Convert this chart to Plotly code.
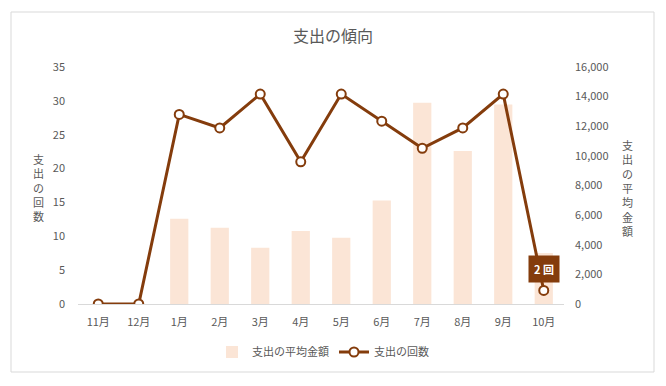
import plotly.graph_objects as go

months = ["11月", "12月", "1月", "2月", "3月", "4月", "5月", "6月", "7月", "8月", "9月", "10月"]
avg_amount = [0, 0, 5760, 5150, 3800, 4930, 4480, 6980, 13590, 10330, 13460, 3440]
counts = [0, 0, 28, 26, 31, 21, 31, 27, 23, 26, 31, 2]
left_ticks = [0, 5, 10, 15, 20, 25, 30, 35]
right_ticks = [0, 2000, 4000, 6000, 8000, 10000, 12000, 14000, 16000]
left_title = "支出の回数"
right_title = "支出の平均金額"

FONT = "Noto Sans CJK JP, Meiryo, sans-serif"
GRAY = "#595959"
BROWN = "#843C0C"
PEACH = "#FBE5D6"

# page offset of the figure (body margin)
OFF = 8
W, H = 666 - OFF, 386 - OFF
L, R, T, B = 78 - OFF, 102, 67 - OFF, 82
pw, ph = W - L - R, H - T - B

def px(xp):
    # page x -> paper x
    return (xp - OFF - L) / pw

def py(yp):
    # page y -> paper y
    return (H - B - (yp - OFF)) / ph

fig = go.Figure()
fig.add_trace(go.Bar(
    x=months, y=avg_amount, name="支出の平均金額",
    marker=dict(color=PEACH, line=dict(width=0)),
    yaxis="y",
))
fig.add_trace(go.Scatter(
    x=months, y=counts, name="支出の回数", mode="lines+markers",
    line=dict(color=BROWN, width=3),
    marker=dict(symbol="circle", size=9, color="white", line=dict(color=BROWN, width=2)),
    yaxis="y2",
))

fig.add_annotation(
    x=months[-1], y=counts[-1], xref="x", yref="y2",
    text="<b>2 回</b>", showarrow=False, yshift=21,
    font=dict(color="white", size=11, family=FONT),
    bgcolor=BROWN, borderpad=5,
)

fig.add_annotation(
    x=px(38), y=py(187), xref="paper", yref="paper",
    xanchor="center", yanchor="middle",
    text="<br>".join(left_title), showarrow=False,
    font=dict(color=GRAY, size=11, family=FONT),
)
fig.add_annotation(
    x=px(627), y=py(188), xref="paper", yref="paper",
    xanchor="center", yanchor="middle",
    text="<br>".join(right_title), showarrow=False,
    font=dict(color=GRAY, size=11, family=FONT),
)

fig.add_shape(
    type="rect", xref="paper", yref="paper",
    x0=px(11), x1=px(654), y0=py(372), y1=py(12),
    line=dict(color="#D9D9D9", width=1), fillcolor="rgba(0,0,0,0)",
    layer="below",
)

fig.update_layout(
    width=W, height=H,
    margin=dict(l=L, r=R, t=T, b=B, autoexpand=False),
    paper_bgcolor="white", plot_bgcolor="white",
    font=dict(family=FONT, color=GRAY, size=11),
    title=dict(text="支出の傾向", x=(333 - OFF) / W, xanchor="center",
               y=1 - (36 - OFF) / H, yanchor="middle",
               font=dict(size=16, color=GRAY, family=FONT)),
    bargap=0.55,
    showlegend=True,
    legend=dict(orientation="h", x=px(323), xanchor="center", y=py(352), yanchor="middle",
                font=dict(size=11, color=GRAY, family=FONT), itemwidth=30,
                traceorder="normal"),
    xaxis=dict(
        type="category", range=[-0.5, len(months) - 0.5],
        showgrid=False, showline=True, linecolor="#D9D9D9", linewidth=1,
        ticks="", ticklabelstandoff=8, tickfont=dict(size=11, color=GRAY),
        zeroline=False, automargin=False,
    ),
    yaxis=dict(
        side="right", range=[0, 16000], tickvals=right_ticks, tickformat=",",
        showgrid=False, zeroline=False, showline=False, ticks="",
        ticklabelstandoff=10, tickfont=dict(size=11, color=GRAY), automargin=False,
    ),
    yaxis2=dict(
        side="left", overlaying="y", range=[0, 35], tickvals=left_ticks,
        showgrid=False, zeroline=False, showline=False, ticks="",
        ticklabelstandoff=12, tickfont=dict(size=11, color=GRAY), automargin=False,
    ),
)

fig.write_html("out.html")
